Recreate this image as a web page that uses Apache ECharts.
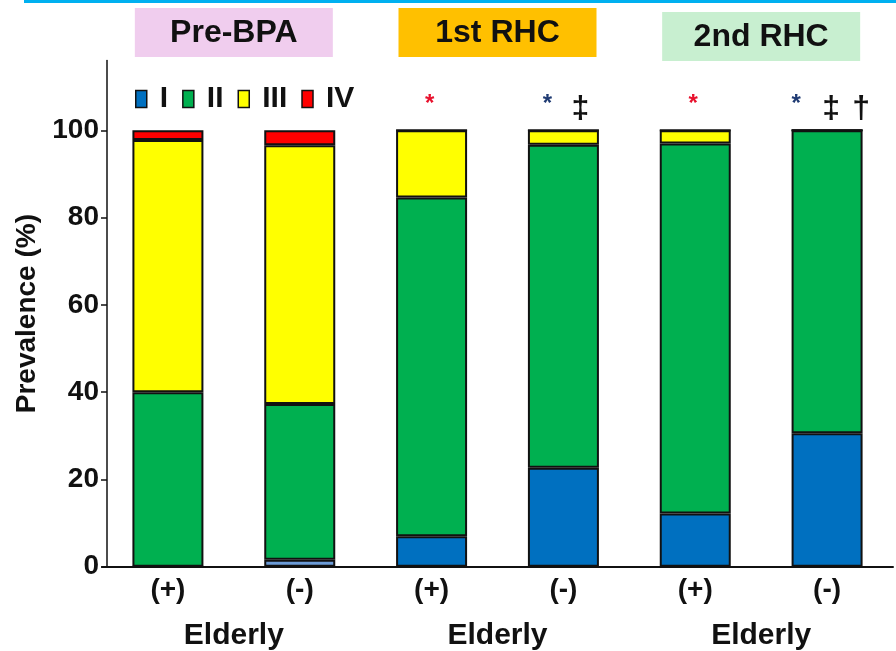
<!DOCTYPE html>
<html>
<head>
<meta charset="utf-8">
<script src="https://cdn.jsdelivr.net/npm/echarts@6/dist/echarts.min.js"></script>
<style>
html,body{margin:0;padding:0;background:#fff;}
#c{width:896px;height:651px;}
</style>
</head>
<body>
<div id="c"></div>
<script>
// ---- data ----
const categories = ['(+)', '(-)', '(+)', '(-)', '(+)', '(-)'];
const groupNames = ['Pre-BPA', '1st RHC', '2nd RHC'];
const groupLabel = 'Elderly';
const classNames = ['I', 'II', 'III', 'IV'];
const classI   = [0,    1.6,  7.0,  22.7, 12.2, 30.6];
const classII  = [40.0, 35.7, 77.6, 74.0, 84.8, 69.4];
const classIII = [57.8, 59.3, 15.4, 3.3,  3.0,  0];
const classIV  = [2.2,  3.4,  0,    0,    0,    0];
const yTicks = [0, 20, 40, 60, 80, 100];
// significance marks per bar: [text, colour key]
const marks = [[], [], [['*', 'red']], [['*', 'navy'], ['‡', 'black']], [['*', 'red']], [['*', 'navy'], ['‡', 'black'], ['†', 'black']]];

const FONT = '"Liberation Sans", Arial, sans-serif';
const colors = ['#0070C0', '#00B050', '#FFFF00', '#FF0000'];
const headerFill = ['#F0CDEE', '#FFC000', '#C8EFD0'];
const markColor = {red: '#E8112D', navy: '#1F3B73', black: '#111'};

const chart = echarts.init(document.getElementById('c'));

function mk(name, arr, color, idx) {
  return {
    name: name, type: 'bar', stack: 'all', barWidth: 71,
    itemStyle: {color: color, borderColor: '#111', borderWidth: 2},
    data: arr.map((v, i) => (idx === 0 && i === 1) ? {value: v, itemStyle: {color: '#6C9CD8'}} : v),
    emphasis: {disabled: true}
  };
}

const option = {
  animation: false,
  grid: {left: 102, right: 3, top: 60.5, bottom: 84.3, containLabel: false},
  legend: {
    left: 130, top: 79, itemWidth: 11, itemHeight: 17, itemGap: 14,
    icon: 'rect',
    itemStyle: {borderColor: '#111', borderWidth: 1.5},
    textStyle: {fontFamily: FONT, fontWeight: 'bold', fontSize: 30, color: '#111', padding: [0, 0, 0, 8]},
    data: classNames
  },
  xAxis: {
    type: 'category', data: categories,
    axisLine: {lineStyle: {color: '#111', width: 2}},
    axisTick: {show: false},
    axisLabel: {fontFamily: FONT, fontWeight: 'bold', fontSize: 28, color: '#111', margin: 10}
  },
  yAxis: {
    type: 'value', min: 0, max: 116, interval: 20, offset: -5,
    name: 'Prevalence (%)', nameLocation: 'middle', nameGap: 66, nameRotate: 90,
    nameTextStyle: {fontFamily: FONT, fontWeight: 'bold', fontSize: 28, color: '#111'},
    axisLine: {show: true, lineStyle: {color: '#111', width: 1.5}},
    axisTick: {show: true, inside: false, length: 6, lineStyle: {color: '#111', width: 1.5}, customValues: yTicks},
    axisLabel: {fontFamily: FONT, fontWeight: 'bold', fontSize: 28, color: '#111', margin: 8, customValues: yTicks},
    splitLine: {show: false}
  },
  series: [
    mk(classNames[0], classI, colors[0], 0),
    mk(classNames[1], classII, colors[1], 1),
    mk(classNames[2], classIII, colors[2], 2),
    mk(classNames[3], classIV, colors[3], 3)
  ]
};
chart.setOption(option);

// ---- decorations positioned from the axis scale ----
function cx(i) { return chart.convertToPixel({xAxisIndex: 0}, i); }
const graphics = [];
// cyan rule at top
graphics.push({type: 'rect', shape: {x: 24, y: 0, width: 872, height: 3}, style: {fill: '#00B0F0'}});
const headerY = [8, 8, 12];
for (let g = 0; g < 3; g++) {
  const c = (cx(2 * g) + cx(2 * g + 1)) / 2;
  graphics.push({type: 'rect', shape: {x: c - 99, y: headerY[g], width: 198, height: 49}, style: {fill: headerFill[g]}});
  graphics.push({type: 'text', x: c, y: headerY[g] + 25, style: {text: groupNames[g], fill: '#111', font: 'bold 32px ' + FONT, align: 'center', verticalAlign: 'middle'}});
  graphics.push({type: 'text', x: c, y: 636, style: {text: groupLabel, fill: '#111', font: 'bold 30px ' + FONT, align: 'center', verticalAlign: 'middle'}});
}
// significance marks above bars
const offsets = {1: [0], 2: [-16, 17], 3: [-31, 4, 34]};
for (let i = 0; i < marks.length; i++) {
  const m = marks[i];
  if (!m.length) continue;
  const base = cx(i);
  const offs = offsets[m.length];
  m.forEach((it, k) => {
    const isStar = it[0] === '*';
    graphics.push({type: 'text', x: base + offs[k] - (m.length === 1 ? 2 : 0), y: isStar ? 104 : 109,
      style: {text: it[0], fill: markColor[it[1]], font: (isStar ? 'bold 24px ' : 'bold 32px ') + FONT, align: 'center', verticalAlign: 'middle'}});
  });
}
chart.setOption({graphic: graphics});
</script>
</body>
</html>
